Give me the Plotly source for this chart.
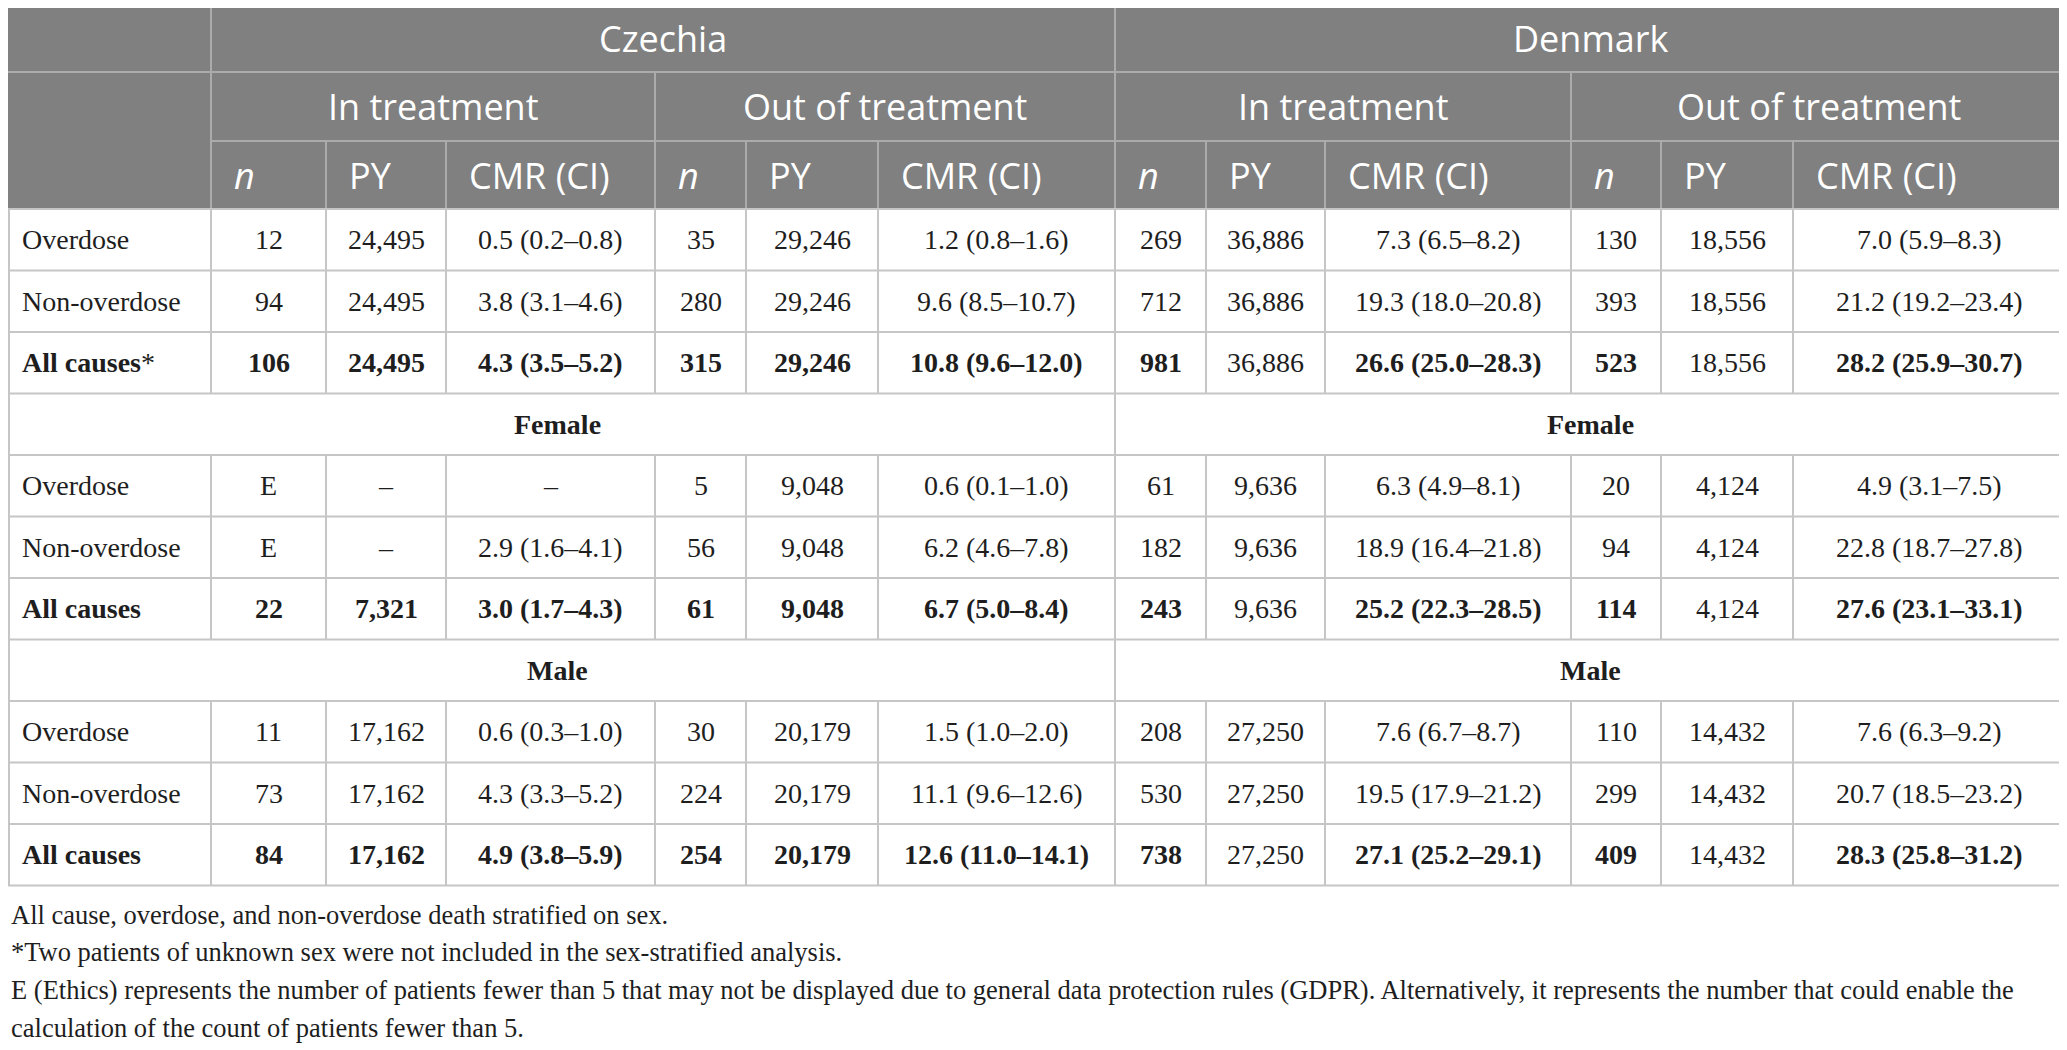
import plotly.graph_objects as go

# ---- data ----
countries = ["Czechia", "Denmark"]
statuses = ["In treatment", "Out of treatment"]
measures = ["n", "PY", "CMR (CI)"]
causes = ["Overdose", "Non-overdose", "All causes"]
sections = ["", "Female", "Male"]

all_overdose = ["12", "24,495", "0.5 (0.2–0.8)", "35", "29,246", "1.2 (0.8–1.6)",
                "269", "36,886", "7.3 (6.5–8.2)", "130", "18,556", "7.0 (5.9–8.3)"]
all_nonoverdose = ["94", "24,495", "3.8 (3.1–4.6)", "280", "29,246", "9.6 (8.5–10.7)",
                   "712", "36,886", "19.3 (18.0–20.8)", "393", "18,556", "21.2 (19.2–23.4)"]
all_allcauses = ["106", "24,495", "4.3 (3.5–5.2)", "315", "29,246", "10.8 (9.6–12.0)",
                 "981", "36,886", "26.6 (25.0–28.3)", "523", "18,556", "28.2 (25.9–30.7)"]

female_overdose = ["E", "–", "–", "5", "9,048", "0.6 (0.1–1.0)",
                   "61", "9,636", "6.3 (4.9–8.1)", "20", "4,124", "4.9 (3.1–7.5)"]
female_nonoverdose = ["E", "–", "2.9 (1.6–4.1)", "56", "9,048", "6.2 (4.6–7.8)",
                      "182", "9,636", "18.9 (16.4–21.8)", "94", "4,124", "22.8 (18.7–27.8)"]
female_allcauses = ["22", "7,321", "3.0 (1.7–4.3)", "61", "9,048", "6.7 (5.0–8.4)",
                    "243", "9,636", "25.2 (22.3–28.5)", "114", "4,124", "27.6 (23.1–33.1)"]

male_overdose = ["11", "17,162", "0.6 (0.3–1.0)", "30", "20,179", "1.5 (1.0–2.0)",
                 "208", "27,250", "7.6 (6.7–8.7)", "110", "14,432", "7.6 (6.3–9.2)"]
male_nonoverdose = ["73", "17,162", "4.3 (3.3–5.2)", "224", "20,179", "11.1 (9.6–12.6)",
                    "530", "27,250", "19.5 (17.9–21.2)", "299", "14,432", "20.7 (18.5–23.2)"]
male_allcauses = ["84", "17,162", "4.9 (3.8–5.9)", "254", "20,179", "12.6 (11.0–14.1)",
                  "738", "27,250", "27.1 (25.2–29.1)", "409", "14,432", "28.3 (25.8–31.2)"]

# bold flags for the "All causes" rows (Denmark PY stays regular)
allcauses_bold = [True, True, True, True, True, True,
                  True, False, True, True, False, True]

footnotes = [
    "All cause, overdose, and non-overdose death stratified on sex.",
    "*Two patients of unknown sex were not included in the sex-stratified analysis.",
    "E (Ethics) represents the number of patients fewer than 5 that may not be displayed due to general data protection rules (GDPR). Alternatively, it represents the number that could enable the",
    "calculation of the count of patients fewer than 5.",
]

section_rows = [
    [all_overdose, all_nonoverdose, all_allcauses],
    [female_overdose, female_nonoverdose, female_allcauses],
    [male_overdose, male_nonoverdose, male_allcauses],
]

# ---- layout geometry (page pixels; body has an 8px default margin) ----
W, H = 2067, 1050
OFF = 8
col_widths = [211, 115, 120, 209, 91, 132, 237, 91, 119, 246, 90, 132, 274]
edges = [0]
for w in col_widths:
    edges.append(edges[-1] + w)
edges[0] = OFF + 1       # outer left border has to sit inside the figure
edges[-1] = W - 1
head_y = [4, 72, 141, 209]
row_h = 61.5

HEAD_BG = "#808080"
HEAD_LINE = "#ababab"
BODY_LINE = "#c6c6c6"
TXT = "#1e1e1e"
SANS = "Open Sans"
SERIF = "Liberation Serif"

shapes = []
annots = []


def line(x0, y0, x1, y1, color):
    shapes.append(dict(type="line", x0=x0, y0=y0, x1=x1, y1=y1,
                       line=dict(color=color, width=2), layer="above"))


def text(x, y, s, family, size, color, anchor="center", bold=False, italic=False,
         weight="normal"):
    if bold:
        s = "<b>" + s + "</b>"
    if italic:
        s = "<i>" + s + "</i>"
    annots.append(dict(x=x, y=y, text=s, showarrow=False, xanchor=anchor,
                       yanchor="middle",
                       font=dict(family=family, size=size, color=color, weight=weight)))


def head(x, y, s, anchor="center", italic=False):
    text(x, y, s, SANS, 36, "white", anchor=anchor, italic=italic, weight=500)


# header background
shapes.append(dict(type="rect", x0=0, y0=head_y[0], x1=W, y1=head_y[3],
                   fillcolor=HEAD_BG, line=dict(width=0), layer="below"))

# header row 1: countries
line(0, head_y[0], W, head_y[0], HEAD_LINE)
for i, c in enumerate(countries):
    x0, x1 = edges[1 + 6 * i], edges[7 + 6 * i]
    head((x0 + x1) / 2, (head_y[0] + head_y[1]) / 2, c)
line(edges[1], head_y[0], edges[1], head_y[3], HEAD_LINE)
line(edges[7], head_y[0], edges[7], head_y[3], HEAD_LINE)
line(0, head_y[1], W, head_y[1], HEAD_LINE)

# header row 2: treatment status
for g in range(4):
    x0, x1 = edges[1 + 3 * g], edges[4 + 3 * g]
    head((x0 + x1) / 2, (head_y[1] + head_y[2]) / 2, statuses[g % 2])
    line(x1, head_y[1], x1, head_y[3], HEAD_LINE)
line(edges[1], head_y[2], W, head_y[2], HEAD_LINE)

# header row 3: measures
for k in range(12):
    x0, x1 = edges[1 + k], edges[2 + k]
    m = measures[k % 3]
    head(x0 + 21, (head_y[2] + head_y[3]) / 2, m, anchor="left", italic=(m == "n"))
    line(x1, head_y[2], x1, head_y[3], HEAD_LINE)

# body
y = head_y[3]
line(0, y, W, y, BODY_LINE)
for s, rows in enumerate(section_rows):
    if sections[s]:
        cy = y + row_h / 2
        text((0 + edges[7]) / 2, cy, sections[s], SERIF, 28, TXT, bold=True)
        text((edges[7] + edges[13]) / 2, cy, sections[s], SERIF, 28, TXT, bold=True)
        line(edges[7], y, edges[7], y + row_h, BODY_LINE)
        line(edges[0], y, edges[0], y + row_h, BODY_LINE)
        line(edges[13], y, edges[13], y + row_h, BODY_LINE)
        y += row_h
        line(0, y, W, y, BODY_LINE)
    for r, vals in enumerate(rows):
        cy = y + row_h / 2
        is_total = causes[r] == "All causes"
        label = "<b>All causes</b>*" if (is_total and s == 0) else causes[r]
        text(20, cy, label, SERIF, 28, TXT, anchor="left",
             bold=(is_total and s != 0))
        for k, v in enumerate(vals):
            text((edges[1 + k] + edges[2 + k]) / 2, cy, v, SERIF, 28, TXT,
                 bold=(is_total and allcauses_bold[k]))
        for e in edges:
            line(e, y, e, y + row_h, BODY_LINE)
        y += row_h
        line(0, y, W, y, BODY_LINE)

# footnotes
for i, f in enumerate(footnotes):
    text(OFF + 1, y + 29 + 37.7 * i, f, SERIF, 26.5, TXT, anchor="left")

fig = go.Figure()
fig.update_layout(
    width=W - OFF, height=H - OFF,
    margin=dict(l=0, r=0, t=0, b=0),
    paper_bgcolor="white", plot_bgcolor="white",
    xaxis=dict(range=[OFF, W], visible=False, fixedrange=True),
    yaxis=dict(range=[H, OFF], visible=False, fixedrange=True),
    shapes=shapes, annotations=annots, showlegend=False,
)

fig.write_html("out.html")
